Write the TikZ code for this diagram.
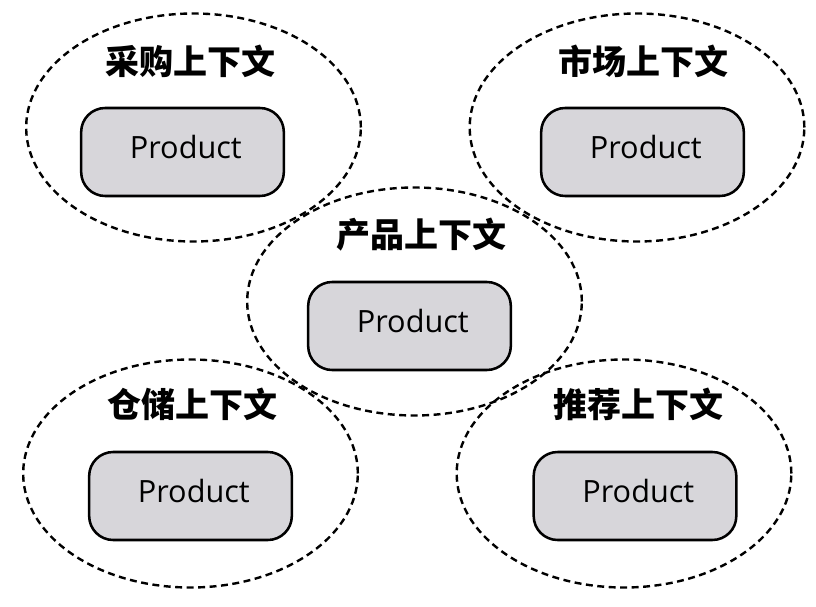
\documentclass[tikz,border=0pt]{standalone}
\usepackage{fontspec}
\setmainfont{Open Sans}
\newfontfamily\cjk{Noto Sans CJK SC}
\usetikzlibrary{shapes.geometric}
\definecolor{boxgray}{RGB}{215,214,218}
\begin{document}
\begin{tikzpicture}[x=0.75pt,y=-0.75pt,
  ctx/.style={draw, dash pattern=on 5.2pt off 3.4pt, line width=1.8pt, ellipse,
    minimum width=251pt, minimum height=171pt, inner sep=0pt},
  prod/.style={draw, line width=1.9pt, fill=boxgray, rounded corners=18pt,
    minimum width=152pt, minimum height=66pt, inner sep=0pt, text depth=8pt,
    font=\fontsize{23}{26}\selectfont},
  lbl/.style={font=\cjk\bfseries\fontsize{25.5}{28}\selectfont, inner sep=0pt}]
\useasboundingbox (0,0) rectangle (816,606);
% contexts
\node[ctx] (e1) at (193.5,127.5) {};
\node[ctx] (e2) at (637,127.5) {};
\node[ctx] (e3) at (414.5,301.5) {};
\node[ctx] (e4) at (190.5,473.5) {};
\node[ctx] (e5) at (624,473.5) {};
% labels
\node[lbl] (l1) at (190,61) {采购上下文};
\node[lbl] (l2) at (643.5,61) {市场上下文};
\node[lbl] (l3) at (421,235) {产品上下文};
\node[lbl] (l4) at (192.5,404) {仓储上下文};
\node[lbl] (l5) at (638,404) {推荐上下文};
% products
\node[prod] (p1) at (182.5,152) {\hspace*{5pt}Product};
\node[prod] (p2) at (642.5,152) {\hspace*{5pt}Product};
\node[prod] (p3) at (409.5,326) {\hspace*{5pt}Product};
\node[prod] (p4) at (190.5,496) {\hspace*{5pt}Product};
\node[prod] (p5) at (635,496) {\hspace*{5pt}Product};
\end{tikzpicture}
\end{document}
